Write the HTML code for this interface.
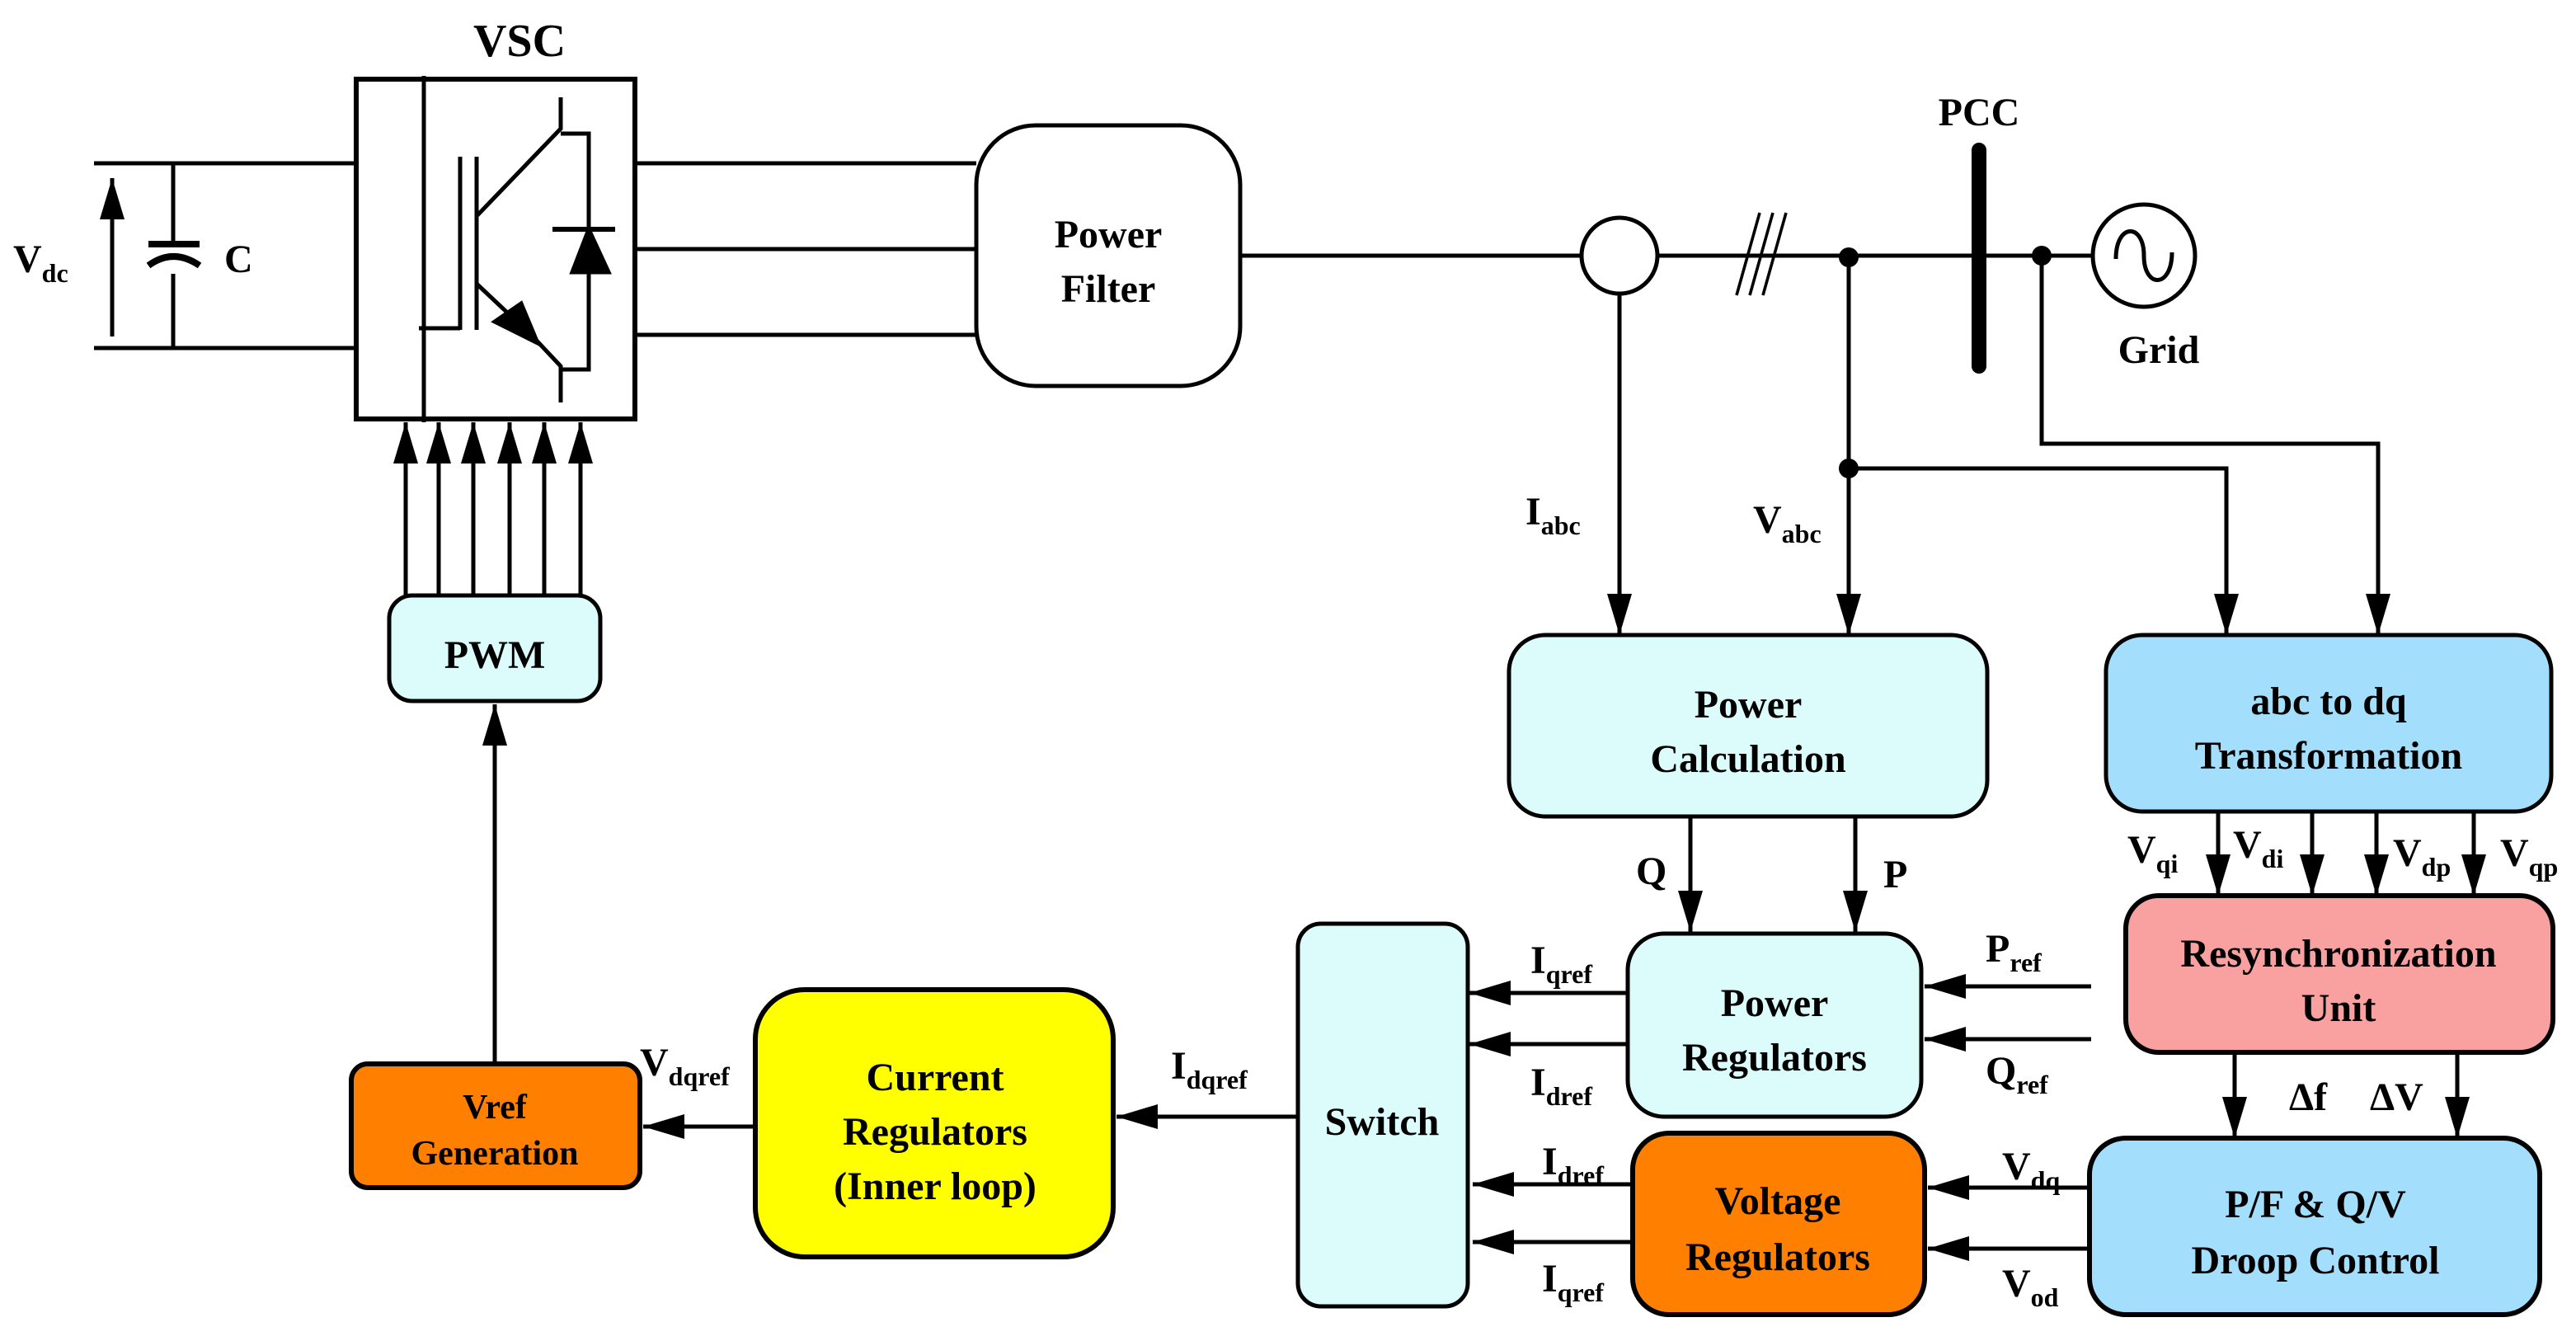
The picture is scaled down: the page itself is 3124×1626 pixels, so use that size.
<!DOCTYPE html>
<html><head><meta charset="utf-8"><style>
html,body{margin:0;padding:0;background:#fff;}
svg{display:block;}
text{font-family:"Liberation Serif","Times New Roman",serif;font-weight:bold;fill:#000;}
</style></head><body>
<svg width="3124" height="1626" viewBox="0 0 1562 813" xmlns="http://www.w3.org/2000/svg">
<defs>
<marker id="a" markerUnits="userSpaceOnUse" markerWidth="28" markerHeight="16" refX="25" refY="8" orient="auto">
<path d="M0,0.5 L25,8 L0,15.5 Z" fill="#000"/></marker>
</defs>
<g stroke="#000" stroke-width="2.5" fill="none">
<line x1="57" y1="99" x2="216" y2="99"/>
<line x1="57" y1="211" x2="216" y2="211"/>
<line x1="68" y1="204" x2="68" y2="108" marker-end="url(#a)"/>
<line x1="105" y1="99" x2="105" y2="148"/>
<line x1="90" y1="148" x2="121" y2="148" stroke-width="4"/>
<path d="M90,161 Q105,150 121,161" stroke-width="4"/>
<line x1="105" y1="166" x2="105" y2="211"/>
<rect x="216" y="48" width="169" height="206" stroke-width="3"/>
<line x1="257" y1="46" x2="257" y2="256"/>
<line x1="279" y1="95" x2="279" y2="200"/>
<line x1="254" y1="199" x2="279" y2="199"/>
<line x1="289" y1="95" x2="289" y2="200"/>
<polyline points="289,131 340,78 340,59"/>
<polyline points="340,81 357,81 357,224 340,224"/>
<polyline points="289,172 324,205 340,222 340,244"/>
<polygon points="300,195 326,208 316,184" fill="#000"/>
<line x1="335" y1="139" x2="373" y2="139" stroke-width="3"/>
<polygon points="357,139 347,165 369,165" fill="#000"/>
<line x1="385" y1="99" x2="592" y2="99"/>
<line x1="385" y1="151" x2="592" y2="151"/>
<line x1="385" y1="203" x2="592" y2="203"/>
<rect x="592" y="76" width="160" height="158" rx="36"/>
<line x1="246" y1="361" x2="246" y2="256" marker-end="url(#a)"/>
<line x1="266" y1="361" x2="266" y2="256" marker-end="url(#a)"/>
<line x1="287" y1="361" x2="287" y2="256" marker-end="url(#a)"/>
<line x1="309" y1="361" x2="309" y2="256" marker-end="url(#a)"/>
<line x1="330" y1="361" x2="330" y2="256" marker-end="url(#a)"/>
<line x1="352" y1="361" x2="352" y2="256" marker-end="url(#a)"/>
<rect x="236" y="361" width="128" height="64" rx="14" fill="#dcfcfc"/>
<line x1="300" y1="645" x2="300" y2="427" marker-end="url(#a)"/>
<line x1="752" y1="155" x2="959" y2="155"/>
<circle cx="982" cy="155" r="23" fill="#fff"/>
<line x1="1005" y1="155" x2="1268" y2="155"/>
<line x1="1053" y1="179" x2="1067" y2="129" stroke-width="1.8"/>
<line x1="1061" y1="179" x2="1075" y2="129" stroke-width="1.8"/>
<line x1="1069" y1="179" x2="1083" y2="129" stroke-width="1.8"/>
<line x1="1200" y1="91" x2="1200" y2="222" stroke-width="9" stroke-linecap="round"/>
<circle cx="1300" cy="155" r="31"/>
<path d="M1283,157 C1283,135 1300,135 1300,155 C1300,175 1317,175 1317,153"/>
<line x1="982" y1="178" x2="982" y2="385" marker-end="url(#a)"/>
<line x1="1121" y1="155" x2="1121" y2="385" marker-end="url(#a)"/>
<polyline points="1121,284 1350,284 1350,385" marker-end="url(#a)"/>
<polyline points="1238,155 1238,269 1442,269 1442,385" marker-end="url(#a)"/>
<rect x="915" y="385" width="290" height="110" rx="22" fill="#dcfcfc"/>
<rect x="1277" y="385" width="270" height="107" rx="22" fill="#a3dffc"/>
<line x1="1025" y1="495" x2="1025" y2="565" marker-end="url(#a)"/>
<line x1="1125" y1="495" x2="1125" y2="565" marker-end="url(#a)"/>
<line x1="1345" y1="492" x2="1345" y2="543" marker-end="url(#a)"/>
<line x1="1402" y1="492" x2="1402" y2="543" marker-end="url(#a)"/>
<line x1="1441" y1="492" x2="1441" y2="543" marker-end="url(#a)"/>
<line x1="1500" y1="492" x2="1500" y2="543" marker-end="url(#a)"/>
<rect x="1289" y="543" width="259" height="95" rx="20" fill="#f9a0a0" stroke-width="3"/>
<line x1="1355" y1="638" x2="1355" y2="690" marker-end="url(#a)"/>
<line x1="1490" y1="638" x2="1490" y2="690" marker-end="url(#a)"/>
<rect x="1267" y="690" width="273" height="107" rx="22" fill="#a3dffc" stroke-width="3"/>
<rect x="987" y="566" width="178" height="111" rx="22" fill="#dcfcfc"/>
<line x1="1268" y1="598" x2="1167" y2="598" marker-end="url(#a)"/>
<line x1="1268" y1="630" x2="1167" y2="630" marker-end="url(#a)"/>
<line x1="987" y1="602" x2="891" y2="602" marker-end="url(#a)"/>
<line x1="987" y1="633" x2="891" y2="633" marker-end="url(#a)"/>
<rect x="990" y="687" width="177" height="110" rx="22" fill="#ff8000" stroke-width="3"/>
<line x1="1267" y1="720" x2="1169" y2="720" marker-end="url(#a)"/>
<line x1="1267" y1="757" x2="1169" y2="757" marker-end="url(#a)"/>
<line x1="990" y1="718" x2="893" y2="718" marker-end="url(#a)"/>
<line x1="990" y1="753" x2="893" y2="753" marker-end="url(#a)"/>
<rect x="787" y="560" width="103" height="232" rx="14" fill="#dcfcfc"/>
<line x1="787" y1="677" x2="677" y2="677" marker-end="url(#a)"/>
<rect x="458" y="600" width="217" height="162" rx="30" fill="#ffff00" stroke-width="3"/>
<line x1="458" y1="683" x2="390" y2="683" marker-end="url(#a)"/>
<rect x="213" y="645" width="175" height="75" rx="10" fill="#ff8000" stroke-width="3"/>
</g>
<g stroke="none" fill="#000">
<circle cx="1121" cy="156" r="6"/><circle cx="1121" cy="284" r="6"/><circle cx="1238" cy="155" r="6"/>
</g>
<g font-size="24" text-anchor="middle">
<text x="315" y="34" font-size="28">VSC</text>
<text x="672" y="150">Power</text><text x="672" y="183">Filter</text>
<text x="300" y="405">PWM</text>
<text x="1200" y="76">PCC</text>
<text x="1309" y="220">Grid</text>
<text x="1060" y="435">Power</text><text x="1060" y="468">Calculation</text>
<text x="1412" y="433">abc to dq</text><text x="1412" y="466">Transformation</text>
<text x="1418" y="586">Resynchronization</text><text x="1418" y="619">Unit</text>
<text x="1404" y="738">P/F &amp; Q/V</text><text x="1404" y="772">Droop Control</text>
<text x="1076" y="616">Power</text><text x="1076" y="649">Regulators</text>
<text x="1078" y="736">Voltage</text><text x="1078" y="770">Regulators</text>
<text x="838" y="688">Switch</text>
<text x="567" y="661">Current</text><text x="567" y="694">Regulators</text><text x="567" y="727">(Inner loop)</text>
<text x="300" y="678" font-size="21">Vref</text><text x="300" y="706" font-size="21">Generation</text>
</g>
<g font-size="24">
<text x="8" y="165">V<tspan font-size="16" dy="6">dc</tspan></text>
<text x="136" y="165">C</text>
<text x="925" y="318">I<tspan font-size="16" dy="6">abc</tspan></text>
<text x="1063" y="323">V<tspan font-size="16" dy="6">abc</tspan></text>
<text x="992" y="536">Q</text>
<text x="1142" y="538">P</text>
<text x="1290" y="523">V<tspan font-size="16" dy="6">qi</tspan></text>
<text x="1354" y="520">V<tspan font-size="16" dy="6">di</tspan></text>
<text x="1451" y="525">V<tspan font-size="16" dy="6">dp</tspan></text>
<text x="1516" y="525">V<tspan font-size="16" dy="6">qp</tspan></text>
<text x="1204" y="583">P<tspan font-size="16" dy="6">ref</tspan></text>
<text x="1204" y="657">Q<tspan font-size="16" dy="6">ref</tspan></text>
<text x="928" y="590">I<tspan font-size="16" dy="6">qref</tspan></text>
<text x="928" y="664">I<tspan font-size="16" dy="6">dref</tspan></text>
<text x="1388" y="673">Δf</text>
<text x="1437" y="673">ΔV</text>
<text x="1214" y="715">V<tspan font-size="16" dy="6">dq</tspan></text>
<text x="1214" y="786">V<tspan font-size="16" dy="6">od</tspan></text>
<text x="935" y="712">I<tspan font-size="16" dy="6">dref</tspan></text>
<text x="935" y="783">I<tspan font-size="16" dy="6">qref</tspan></text>
<text x="710" y="654">I<tspan font-size="16" dy="6">dqref</tspan></text>
<text x="388" y="652">V<tspan font-size="16" dy="6">dqref</tspan></text>
</g>
</svg>
</body></html>
